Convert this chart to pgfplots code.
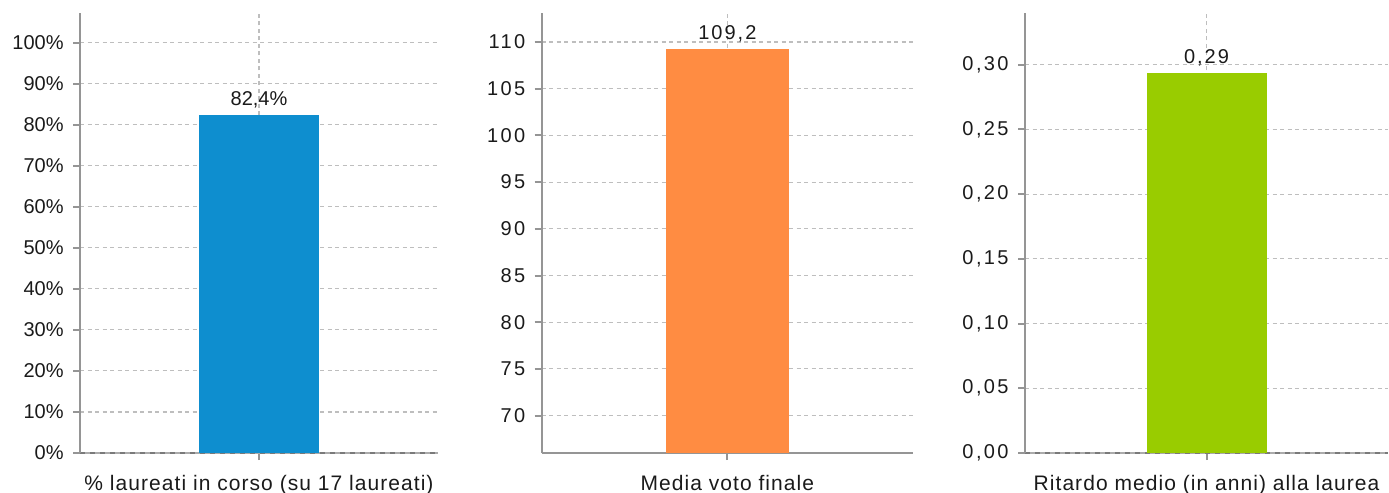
\documentclass[border=0pt]{standalone}
\usepackage{fontspec}
\setmainfont{Liberation Sans}
\usepackage{pgfplots}
\pgfplotsset{compat=1.18}
\definecolor{axgray}{HTML}{959595}
\definecolor{axlight}{HTML}{ABABAB}
\definecolor{axdark}{HTML}{7A7A7A}
\definecolor{gridgray}{HTML}{BEBEBE}
\definecolor{txt}{HTML}{1A1A1A}
\definecolor{cblue}{HTML}{0E8ECF}
\definecolor{corange}{HTML}{FF8C42}
\definecolor{cgreen}{HTML}{99CC00}
\pgfplotsset{
  panel/.style={
    scale only axis,
    height=220bp,
    axis x line=bottom, axis y line=left,
    axis line style={axgray, line width=1.1bp, -},
    tick align=outside,
    major tick length=3.5bp,
    tick style={axgray, line width=1bp},
    xmin=-1, xmax=1, xtick={0},
    ymajorgrids, xmajorgrids,
    grid style={gridgray, line width=0.55bp, dash pattern=on 2bp off 1.75bp},
    ybar,
    /pgf/number format/assume math mode=true,
    /pgf/number format/use comma,
    yticklabel style={font=\fontsize{10bp}{12bp}\selectfont, text=txt, anchor=east, inner sep=0pt, xshift=-4.5bp},
    xticklabel style={font=\fontsize{10.5bp}{12bp}\selectfont\addfontfeature{LetterSpace=5}, text=txt, anchor=base, inner sep=0pt, yshift=-15bp},
    nodes near coords style={text=txt, anchor=base, inner sep=0pt, yshift=4.75bp},
  },
  dashedbase/.style={
    x axis line style={draw=axlight, postaction={draw=axdark, dash pattern=on 2.5bp off 2.5bp}},
  },
}
\begin{document}
\begin{tikzpicture}
\useasboundingbox (0,0) rectangle (694.5bp,246.5bp);
% Panel 1
\begin{axis}[panel, dashedbase, at={(40bp,20bp)}, width=179bp,
  ymin=0, ymax=107.2, ytick={0,10,...,100},
  yticklabel={\pgfmathprintnumber{\tick}\%},
  bar width=59.5bp,
  xticklabels={\% laureati in corso (su 17 laureati)},
  nodes near coords={\pgfmathprintnumber[fixed,precision=1,use comma]{\pgfplotspointmeta}\%},
  nodes near coords style={font=\fontsize{10bp}{12bp}\selectfont},
]
\addplot[fill=cblue, draw=none] coordinates {(0,82.4)};
\end{axis}
% Panel 2
\begin{axis}[panel, at={(270.85bp,20bp)}, width=185.65bp,
  ymin=66, ymax=113.1, ytick={70,75,...,110},
  yticklabel style={font=\fontsize{10bp}{12bp}\selectfont\addfontfeature{LetterSpace=12}},
  bar width=61.5bp,
  xticklabels={Media voto finale},
  nodes near coords={\pgfmathprintnumber[fixed,precision=1,use comma]{\pgfplotspointmeta}},
  nodes near coords style={font=\fontsize{10bp}{12bp}\selectfont\addfontfeature{LetterSpace=10}},
]
\addplot[fill=corange, draw=none] coordinates {(0,109.2)};
\end{axis}
% Panel 3
\begin{axis}[panel, dashedbase, at={(512.5bp,20bp)}, width=181.5bp,
  ymin=0, ymax=0.34, ytick={0,0.05,...,0.30},
  yticklabel style={font=\fontsize{10bp}{12bp}\selectfont\addfontfeature{LetterSpace=12},
    /pgf/number format/.cd, fixed, fixed zerofill, precision=2, use comma},
  bar width=60bp,
  xticklabels={Ritardo medio (in anni) alla laurea},
  nodes near coords={\pgfmathprintnumber[fixed,fixed zerofill,precision=2,use comma]{\pgfplotspointmeta}},
  nodes near coords style={font=\fontsize{10bp}{12bp}\selectfont\addfontfeature{LetterSpace=10}},
]
\addplot[fill=cgreen, draw=none] coordinates {(0,0.294)};
\end{axis}
\end{tikzpicture}
\end{document}
